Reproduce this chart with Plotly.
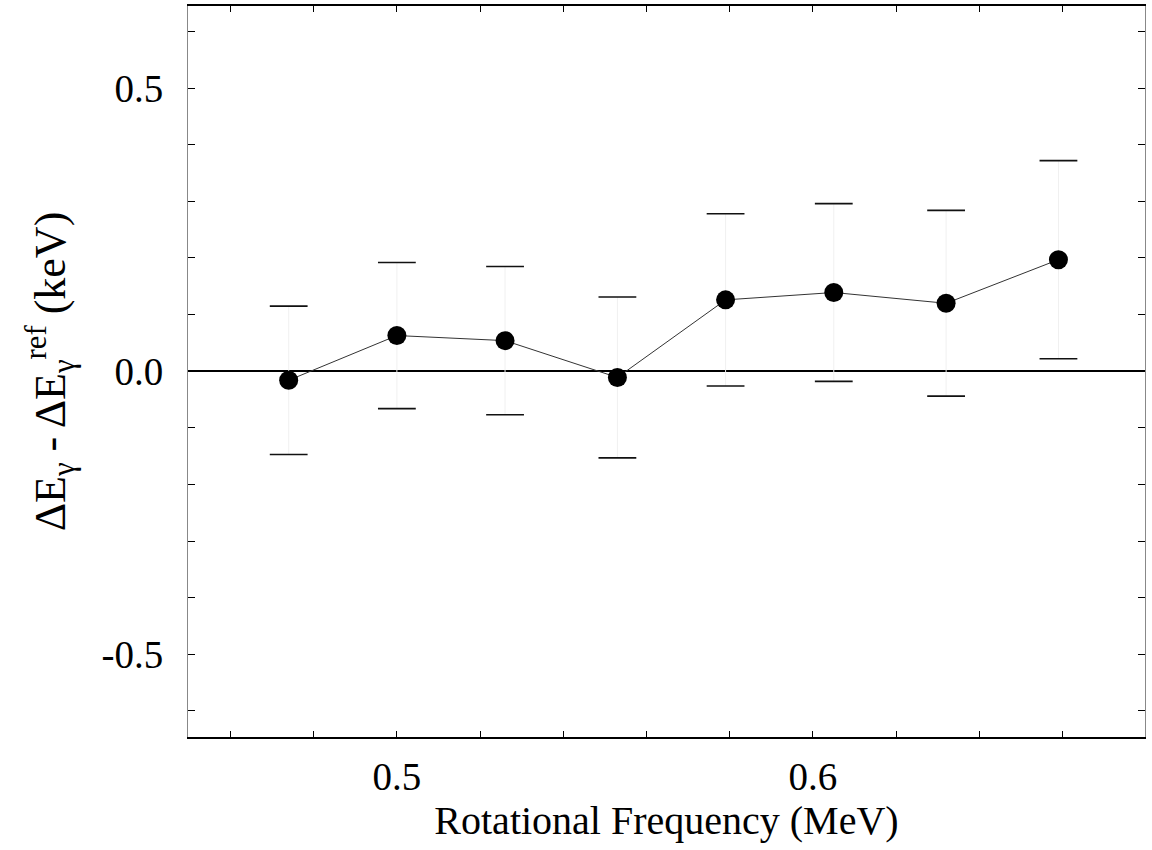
import plotly.graph_objects as go

# ---- data ----
rot_freq = [0.474, 0.500, 0.526, 0.553, 0.579, 0.605, 0.632, 0.659]
delta_e = [-0.016, 0.063, 0.054, -0.011, 0.126, 0.139, 0.120, 0.197]
err = [0.131, 0.129, 0.131, 0.142, 0.152, 0.157, 0.164, 0.175]

x_tick_vals = [0.46, 0.48, 0.50, 0.52, 0.54, 0.56, 0.58, 0.60, 0.62, 0.64, 0.66]
x_tick_text = ["", "", "0.5", "", "", "", "", "0.6", "", "", ""]
y_tick_vals = [-0.6, -0.5, -0.4, -0.3, -0.2, -0.1, 0.0, 0.1, 0.2, 0.3, 0.4, 0.5, 0.6]
y_tick_text = ["", "-0.5", "", "", "", "", "0.0", "", "", "", "", "0.5", ""]

upper = [v + e for v, e in zip(delta_e, err)]
lower = [v - e for v, e in zip(delta_e, err)]

FONT = "Liberation Serif"

fig = go.Figure()

# faint error-bar stems
fig.add_trace(go.Scatter(
    x=rot_freq, y=delta_e, mode="markers",
    marker=dict(size=1, color="rgba(0,0,0,0)"),
    error_y=dict(type="data", array=err, visible=True, color="#f0f0f0", thickness=1, width=0),
    showlegend=False, hoverinfo="skip"))

# error-bar caps
fig.add_trace(go.Scatter(
    x=rot_freq + rot_freq, y=upper + lower, mode="markers",
    marker=dict(symbol="line-ew", size=27, line=dict(width=1.6, color="#111")),
    showlegend=False, hoverinfo="skip"))

# data points with connecting line
fig.add_trace(go.Scatter(
    x=rot_freq, y=delta_e, mode="lines+markers",
    line=dict(color="#333", width=1),
    marker=dict(size=19, color="black"),
    showlegend=False))

fig.update_layout(
    width=1152, height=850,
    margin=dict(l=188, r=7, t=6, b=113),
    paper_bgcolor="white", plot_bgcolor="white",
    font=dict(family=FONT, size=38, color="black"),
)

fig.update_xaxes(
    range=[0.4498, 0.6798],
    tickvals=x_tick_vals, ticktext=x_tick_text,
    ticks="inside", ticklen=6, tickwidth=1, tickcolor="black",
    showline=True, linecolor="black", linewidth=2, mirror="allticks",
    showgrid=False, zeroline=False,
    tickfont=dict(size=39, family=FONT),
    ticklabelstandoff=4,
    title=dict(text="Rotational Frequency (MeV)", font=dict(size=40, family=FONT), standoff=8),
    automargin=False,
)

fig.update_yaxes(
    range=[-0.646, 0.645],
    tickvals=y_tick_vals, ticktext=y_tick_text,
    ticks="inside", ticklen=7, tickwidth=1, tickcolor="black",
    showline=True, linecolor="#888", linewidth=1, mirror="allticks",
    showgrid=False,
    zeroline=True, zerolinecolor="black", zerolinewidth=1.5,
    tickfont=dict(size=39, family=FONT),
    ticklabelstandoff=16,
    title=dict(text="ΔE<sub>γ</sub> - ΔE<sub>γ</sub><sup>ref</sup> (keV)", font=dict(size=44, family=FONT), standoff=22),
    automargin=False,
)

fig.write_html("out.html")
